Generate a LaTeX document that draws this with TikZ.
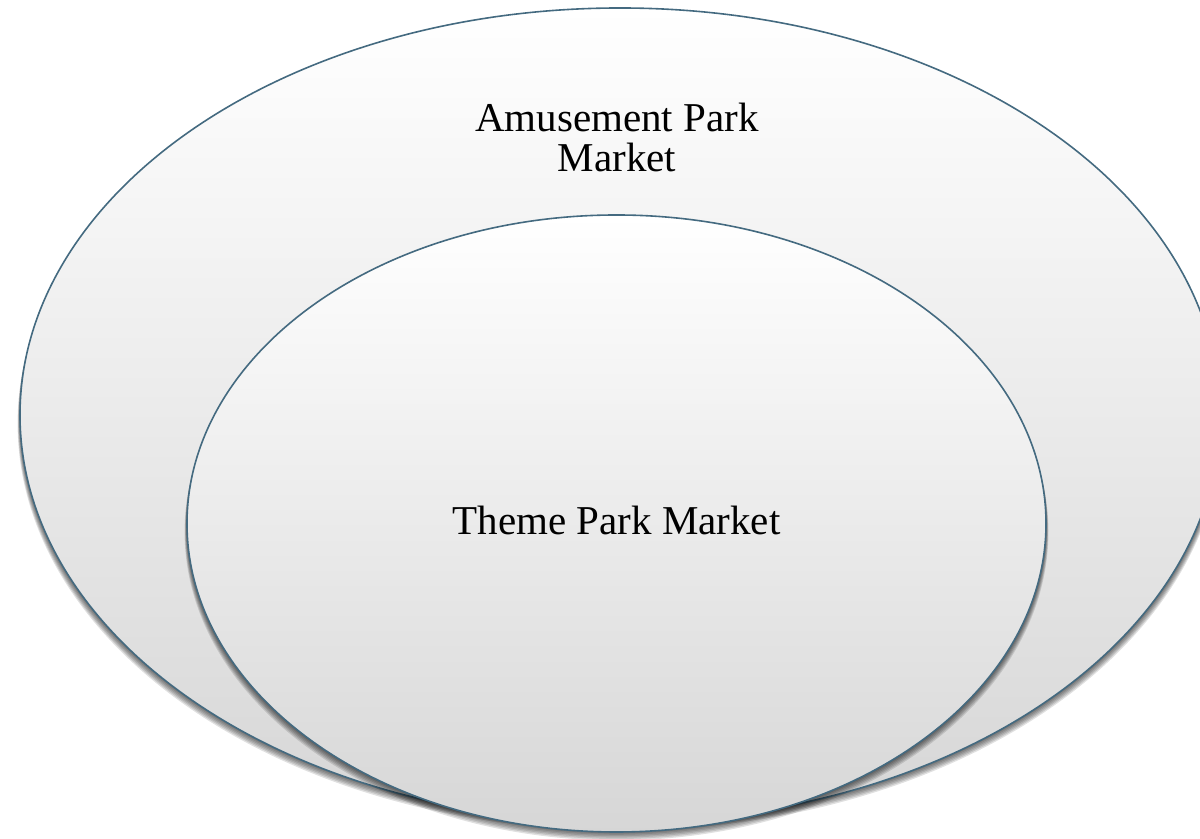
\documentclass[tikz,border=0pt]{standalone}
\usepackage{fontspec}
\setmainfont{Liberation Serif}
\definecolor{rimblue}{RGB}{68,106,128}
\tikzset{
  market/.style={draw=rimblue,line width=0.8pt,top color=white,bottom color=gray!32},
  softshadow/.style={fill=black,opacity=0.12},
  marketname/.style={font=\fontsize{20.5}{20}\selectfont,align=center,inner sep=0pt}
}

\begin{document}
\begin{tikzpicture}[x=0.5pt,y=0.5pt]
\useasboundingbox (0,0) rectangle (1200,839);
\clip (0,0) rectangle (1200,839);
\coordinate (outerc) at (620,424);
\coordinate (innerc) at (616.5,315.5);
% outer ring with its shadow
\foreach \s in {1,...,6}
  \fill[softshadow] ([yshift=-\s*0.7pt]outerc) ellipse [x radius=600+0.4*\s,y radius=407];
\path[market] (outerc) ellipse [x radius=600,y radius=407];
% inner ring with its shadow
\foreach \s in {1,...,6}
  \fill[softshadow] ([yshift=-\s*0.7pt]innerc) ellipse [x radius=429.5+0.4*\s,y radius=308.5];
\path[market] (innerc) ellipse [x radius=429.5,y radius=308.5];
\node[marketname,anchor=base] (amusement) at (617,667) {Amusement Park\\Market};
\node[marketname,anchor=base] (theme) at (616.5,304) {Theme Park Market};
\end{tikzpicture}
\end{document}
